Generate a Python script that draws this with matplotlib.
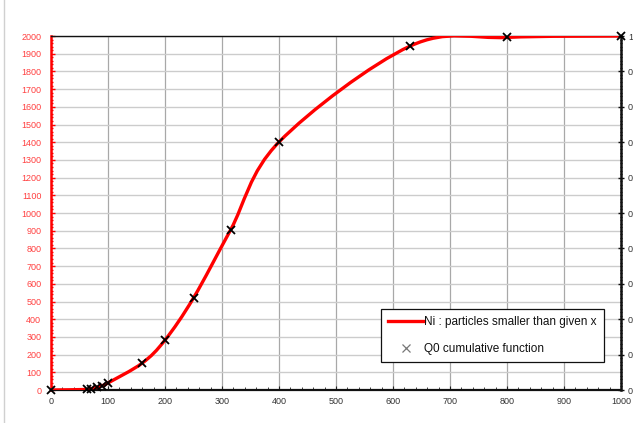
import numpy as np
import matplotlib
matplotlib.use('Agg')
import matplotlib.pyplot as plt
from matplotlib.path import Path
from matplotlib.patches import PathPatch
from matplotlib.lines import Line2D
from matplotlib.ticker import MultipleLocator

plt.rcParams['font.family'] = ['Liberation Sans', 'DejaVu Sans']

# particle size x and number of particles smaller than x
size_x = [0, 63, 71, 80, 90, 100, 160, 200, 250, 315, 400, 630, 800, 1000]
ni = [0, 3, 8, 15, 25, 40, 152, 282, 520, 904, 1401, 1943, 1992, 2000]
# Q0 cumulative function (fraction of total)
q0 = [v / ni[-1] for v in ni]

x_ticks = [0, 100, 200, 300, 400, 500, 600, 700, 800, 900, 1000]
left_ticks = list(range(0, 2001, 100))
right_ticks = [0, 0.1, 0.2, 0.3, 0.4, 0.5, 0.6, 0.7, 0.8, 0.9, 1.0]


def smooth_path(xs, ys):
    # excel-like smoothed line: cubic bezier through each point
    p = np.column_stack([xs, ys]).astype(float)
    n = len(p)
    verts = [p[0]]
    codes = [Path.MOVETO]
    for i in range(n - 1):
        prev = p[i - 1] if i > 0 else p[i]
        nxt = p[i + 2] if i + 2 < n else p[i + 1]
        c1 = p[i] + (p[i + 1] - prev) / 6
        c2 = p[i + 1] - (nxt - p[i]) / 6
        verts += [c1, c2, p[i + 1]]
        codes += [Path.CURVE4] * 3
    return Path(verts, codes)


W, H = 633, 423
fig = plt.figure(figsize=(W / 100, H / 100), dpi=100)
ax = fig.add_axes([51 / W, (H - 390) / H, 570 / W, 354 / H])

ax.set_xlim(0, 1000)
ax.set_ylim(0, 2000)
ax.set_xticks(x_ticks)
ax.set_yticks(left_ticks)
ax.xaxis.set_minor_locator(MultipleLocator(20))
ax.yaxis.set_minor_locator(MultipleLocator(20))

ax.grid(axis='x', which='major', color='#a8a8a8', lw=0.9)
ax.grid(axis='y', which='major', color='#cccccc', lw=1.0)
ax.set_axisbelow(True)

curve = PathPatch(smooth_path(size_x, ni), fill=False, edgecolor='#ff0000',
                  lw=2.4, capstyle='round', joinstyle='round', zorder=3)
ax.add_patch(curve)

ax.tick_params(axis='y', which='both', direction='in', colors='#ff0000',
               labelcolor='#ff4040', labelsize=6.5, pad=7)
ax.tick_params(axis='y', which='major', length=3, width=1)
ax.tick_params(axis='y', which='minor', length=1.5, width=1)
ax.tick_params(axis='x', which='both', direction='in', colors='#222222',
               labelcolor='#333333', labelsize=6.5, pad=5)
ax.tick_params(axis='x', which='major', length=3)
ax.tick_params(axis='x', which='minor', length=2)

ax.spines['left'].set_color('#ff0000')
ax.spines['left'].set_linewidth(1.8)
ax.spines['bottom'].set_color('#111111')
ax.spines['bottom'].set_linewidth(1.6)
ax.spines['top'].set_color('#111111')
ax.spines['top'].set_linewidth(1.0)
ax.spines['right'].set_visible(False)

ax2 = ax.twinx()
ax2.set_ylim(0, 1)
ax2.set_yticks(right_ticks)
ax2.set_yticklabels(['%.1f' % t if 0 < t < 1 else '%d' % t for t in right_ticks])
ax2.yaxis.set_minor_locator(MultipleLocator(0.01))
ax2.tick_params(axis='y', which='both', direction='inout', colors='#111111',
                labelcolor='#333333', labelsize=6.5, pad=3)
ax2.tick_params(axis='y', which='major', length=4, width=1)
ax2.tick_params(axis='y', which='minor', length=1.5, width=0.8)
for s in ['left', 'top', 'bottom']:
    ax2.spines[s].set_visible(False)
ax2.spines['right'].set_color('#111111')
ax2.spines['right'].set_linewidth(1.8)

ax2.plot(size_x, q0, linestyle='none', marker='x', color='black',
         markersize=6, markeredgewidth=1.3, clip_on=False, zorder=5)

handles = [Line2D([], [], color='#ff0000', lw=2.4),
           Line2D([], [], linestyle='none', marker='x', color='#777777',
                  markersize=6, markeredgewidth=0.9)]
labels = ['Ni : particles smaller than given x', 'Q0 cumulative function']
leg = ax2.legend(handles, labels, loc='upper left',
                 bbox_to_anchor=(0.579, 0.229), fontsize=8.5,
                 frameon=True, fancybox=False, framealpha=1,
                 edgecolor='#111111', handlelength=3.0, handletextpad=0.05,
                 labelspacing=1.25, borderpad=0.6, borderaxespad=0)
leg.get_frame().set_linewidth(0.9)
for t in leg.get_texts():
    t.set_color('#111111')

# outer chart area border (left edge)
fig.add_artist(Line2D([4 / W, 4 / W], [0, 1], color='#d0d0d0', lw=1.0))

fig.savefig('out.png', dpi=100)
